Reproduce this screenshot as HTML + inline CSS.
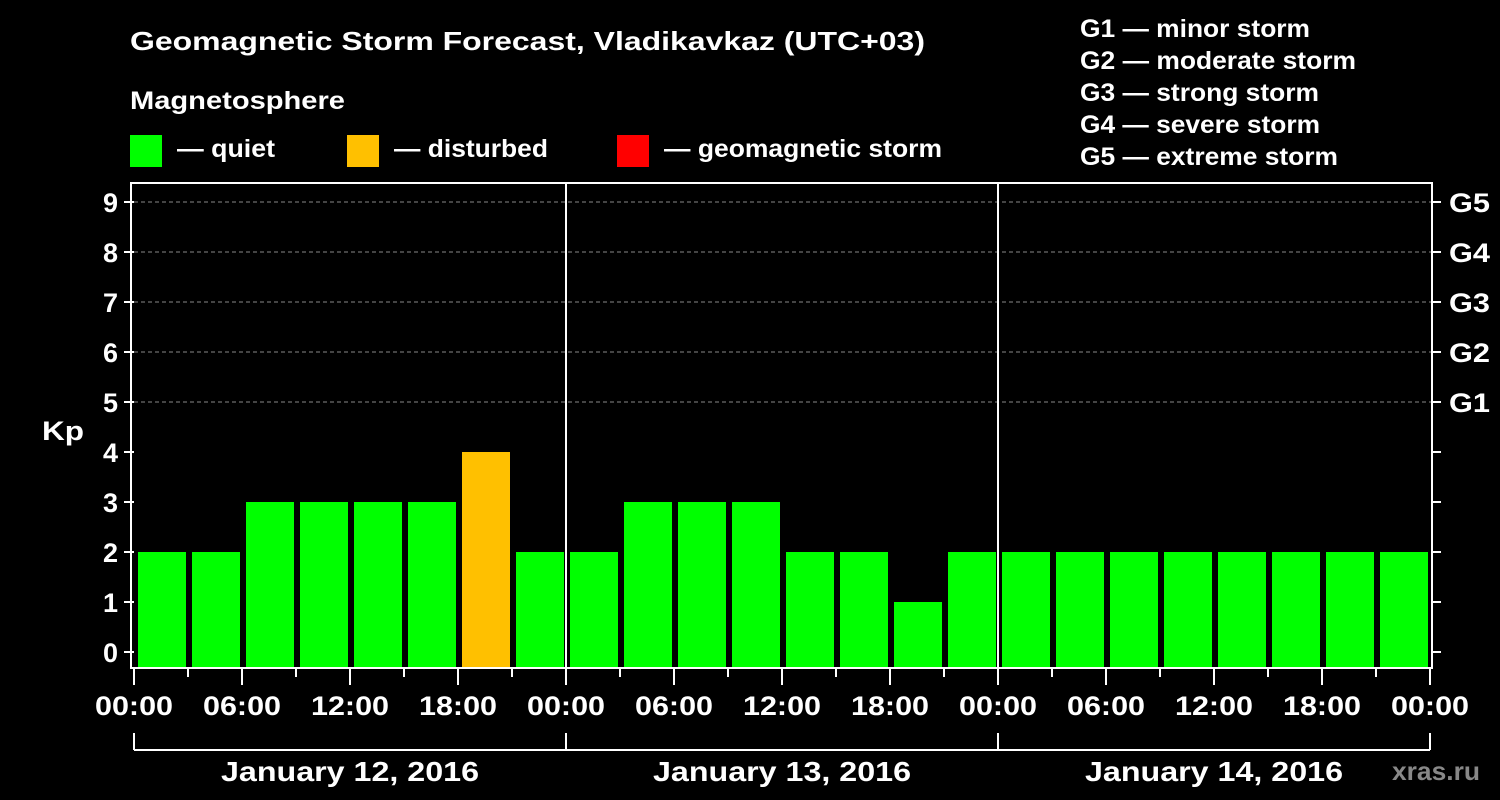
<!DOCTYPE html>
<html><head><meta charset="utf-8"><style>
body{margin:0;background:#000;}
svg{display:block;font-family:"Liberation Sans",sans-serif;font-weight:bold;}
</style></head><body>
<svg id="c" width="1500" height="800" viewBox="0 0 1500 800">
<rect width="1500" height="800" fill="#000"/>
<text x="130" y="50" fill="#fff" font-size="26" textLength="795" lengthAdjust="spacingAndGlyphs">Geomagnetic Storm Forecast, Vladikavkaz (UTC+03)</text>
<text x="130" y="109" fill="#fff" font-size="25" textLength="215" lengthAdjust="spacingAndGlyphs">Magnetosphere</text>
<g><rect x="130" y="135" width="32" height="32" fill="#00ff00"/><text x="177" y="157" fill="#fff" font-size="25" textLength="98" lengthAdjust="spacingAndGlyphs">— quiet</text></g>
<g><rect x="347" y="135" width="32" height="32" fill="#ffc000"/><text x="394" y="157" fill="#fff" font-size="25" textLength="154" lengthAdjust="spacingAndGlyphs">— disturbed</text></g>
<g><rect x="617" y="135" width="32" height="32" fill="#ff0000"/><text x="664" y="157" fill="#fff" font-size="25" textLength="278" lengthAdjust="spacingAndGlyphs">— geomagnetic storm</text></g>
<g fill="#fff" font-size="25">
<text x="1080" y="37" textLength="230" lengthAdjust="spacingAndGlyphs">G1 — minor storm</text>
<text x="1080" y="69" textLength="276" lengthAdjust="spacingAndGlyphs">G2 — moderate storm</text>
<text x="1080" y="101" textLength="239" lengthAdjust="spacingAndGlyphs">G3 — strong storm</text>
<text x="1080" y="133" textLength="240" lengthAdjust="spacingAndGlyphs">G4 — severe storm</text>
<text x="1080" y="165" textLength="258" lengthAdjust="spacingAndGlyphs">G5 — extreme storm</text></g>
<text x="42" y="440" fill="#fff" font-size="27" textLength="42" lengthAdjust="spacingAndGlyphs">Kp</text>
<g id="grid"></g><g id="bars"></g><g id="axes"></g>
<text x="1392" y="780" fill="#888" font-size="26" textLength="88" lengthAdjust="spacingAndGlyphs">xras.ru</text>
</svg>
<script>
const values=[2,2,3,3,3,3,4,2, 2,3,3,3,2,2,1,2, 2,2,2,2,2,2,2,2];
const yTicks=[0,1,2,3,4,5,6,7,8,9];
const gLabels=["G1","G2","G3","G4","G5"];
const gLevels=[5,6,7,8,9];
const xTickLabels=["00:00","06:00","12:00","18:00","00:00","06:00","12:00","18:00","00:00","06:00","12:00","18:00","00:00"];
const days=["January 12, 2016","January 13, 2016","January 14, 2016"];
const NS="http://www.w3.org/2000/svg";
const L=134,R=1432,T=183,B=668;
const y=v=>652-v*50;
const x=h=>L+h*18;
function mk(p,tag,at){const e=document.createElementNS(NS,tag);for(const k in at)e.setAttribute(k,at[k]);p.appendChild(e);return e;}
const grid=document.getElementById('grid'),bars=document.getElementById('bars'),axes=document.getElementById('axes');
yTicks.forEach(v=>{
 if(v>=5){const g=mk(grid,'line',{x1:L,x2:R,y1:y(v),y2:y(v),stroke:'#888','stroke-dasharray':'4,3','stroke-width':1});
 
 }
 mk(axes,'line',{x1:L-10,x2:L,y1:y(v),y2:y(v),stroke:'#fff','stroke-width':2});
 mk(axes,'line',{x1:R,x2:R+9,y1:y(v),y2:y(v),stroke:'#fff','stroke-width':2});
 const t=mk(axes,'text',{x:L-16,y:y(v)+10,fill:'#fff','font-size':27,'text-anchor':'end'});t.textContent=v;
 
 
});
gLevels.forEach((v,i)=>{const t=mk(axes,'text',{x:R+17,y:y(v)+10,fill:'#fff','font-size':27,textLength:41,lengthAdjust:'spacingAndGlyphs'});t.textContent=gLabels[i];
 
 });
values.forEach((v,i)=>{
 const c=v>=5?'#ff0000':(v>=4?'#ffc000':'#00ff00');
 const r=mk(bars,'rect',{x:x(i*3)+4,y:y(v),width:48,height:B-1-y(v),fill:c});
 
 
});
mk(axes,'rect',{x:L-3,y:T,width:R-L+3,height:B-T,fill:'none',stroke:'#fff','stroke-width':2});
[1,2].forEach(d=>mk(axes,'line',{x1:x(d*24),x2:x(d*24),y1:T,y2:B,stroke:'#fff','stroke-width':2}));
for(let h=0;h<=72;h+=3){mk(axes,'line',{x1:x(h),x2:x(h),y1:B,y2:h%6?677:685,stroke:'#fff','stroke-width':2});}
xTickLabels.forEach((s,i)=>{const t=mk(axes,'text',{x:x(i*6),y:715,fill:'#fff','font-size':27,'text-anchor':'middle',textLength:78,lengthAdjust:'spacingAndGlyphs'});t.textContent=s;
 
 });
mk(axes,'line',{x1:x(0),x2:x(72),y1:750,y2:750,stroke:'#fff','stroke-width':2});
for(let d=0;d<=3;d++)mk(axes,'line',{x1:x(d*24),x2:x(d*24),y1:733,y2:750,stroke:'#fff','stroke-width':2});
days.forEach((s,i)=>{const t=mk(axes,'text',{x:x(i*24+12),y:781,fill:'#fff','font-size':28,'text-anchor':'middle',textLength:258,lengthAdjust:'spacingAndGlyphs'});t.textContent=s;
 
 });
</script>
</body></html>
